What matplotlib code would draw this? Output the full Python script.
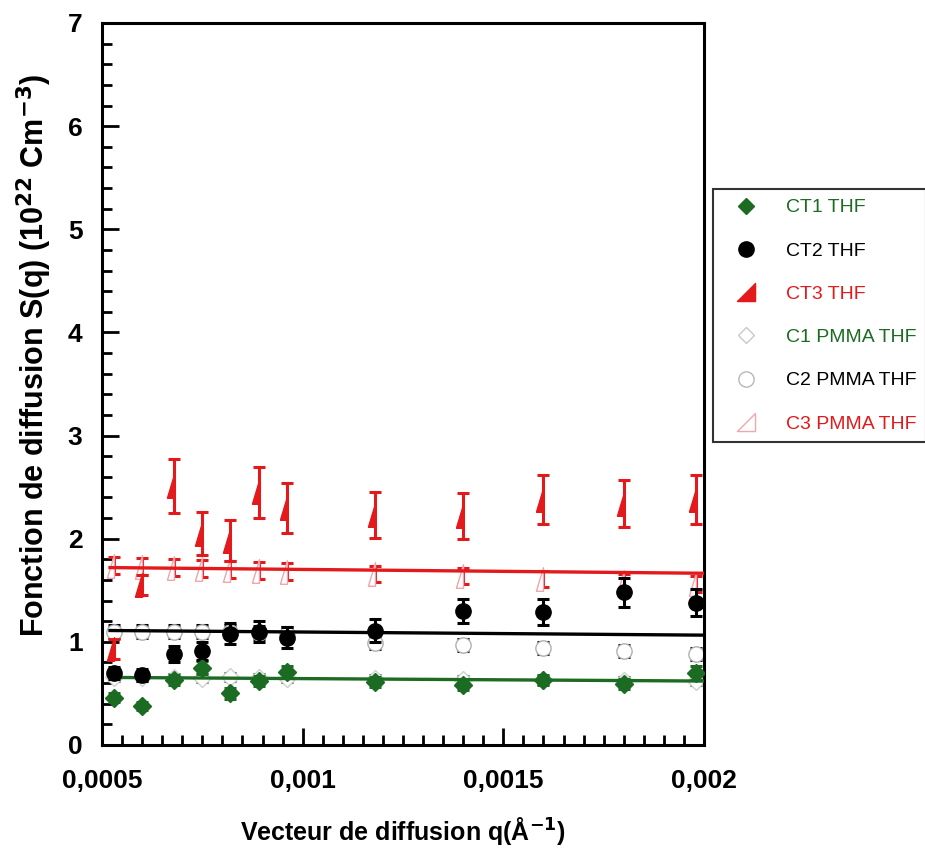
import matplotlib
matplotlib.use("Agg")
import matplotlib.pyplot as plt
from matplotlib.lines import Line2D
from matplotlib.ticker import MultipleLocator, FixedLocator, FixedFormatter

# vecteur de diffusion q (1/A)
q = [0.00053, 0.0006, 0.00068, 0.00075, 0.00082, 0.00089, 0.00096,
     0.00118, 0.0014, 0.0016, 0.0018, 0.00198]

# copolymeres CT dans THF
ct1 = [0.46, 0.38, 0.63, 0.75, 0.50, 0.62, 0.71, 0.61, 0.58, 0.63, 0.59, 0.70]
ct1_err = [0.04, 0.04, 0.05, 0.06, 0.05, 0.05, 0.06, 0.05, 0.05, 0.05, 0.05, 0.07]
ct2 = [0.70, 0.68, 0.88, 0.91, 1.08, 1.10, 1.04, 1.11, 1.30, 1.29, 1.48, 1.38]
ct2_err = [0.06, 0.06, 0.08, 0.09, 0.10, 0.10, 0.10, 0.11, 0.12, 0.13, 0.14, 0.13]
ct3 = [0.93, 1.55, 2.51, 2.05, 1.98, 2.45, 2.30, 2.23, 2.22, 2.38, 2.34, 2.38]
ct3_err = [0.10, 0.10, 0.26, 0.21, 0.20, 0.25, 0.24, 0.22, 0.22, 0.24, 0.23, 0.24]

# PMMA dans THF
c1 = [0.66, 0.66, 0.65, 0.65, 0.66, 0.65, 0.65, 0.64, 0.63, 0.63, 0.62, 0.62]
c1_err = [0.04] * 12
c2 = [1.10, 1.10, 1.10, 1.10, 1.10, 1.09, 1.08, 0.99, 0.97, 0.94, 0.91, 0.88]
c2_err = [0.06] * 12
c3 = [1.74, 1.73, 1.72, 1.71, 1.70, 1.69, 1.68, 1.66, 1.64, 1.61, 1.58, 1.56]
c3_err = [0.08] * 12

# droites d'ajustement (debut, fin)
fit_q = [0.00052, 0.002]
fit_c1 = [0.655, 0.62]
fit_c2 = [1.11, 1.065]
fit_c3 = [1.72, 1.665]

xticks = [0.0005, 0.001, 0.0015, 0.002]
xtick_labels = ["0,0005", "0,001", "0,0015", "0,002"]

vert = "#1b6b22"
noir = "black"
rouge = "#e3191c"
tri = [(-0.6, -1), (0, -1), (0, 1), (-0.6, -1)]   # triangle rectangle

plt.rcParams["font.family"] = ["Liberation Sans", "DejaVu Sans"]

fig = plt.figure(figsize=(9.25, 8.51), dpi=100)
ax = fig.add_axes([102 / 925, 1 - 745 / 851, (704 - 102) / 925, (745 - 23) / 851])

eb = dict(elinewidth=2.2, capthick=2.2, capsize=4.5, linestyle="none")

# PMMA (symboles vides)
ax.errorbar(q, c1, yerr=c1_err, marker="D", markersize=9, mfc="white", mec="#d0d0d0",
            ecolor=vert, zorder=2, **eb)
ax.errorbar(q, c2, yerr=c2_err, marker="o", markersize=11, mfc="white", mec="#b0b0b0",
            ecolor=noir, zorder=2, **eb)
ax.errorbar(q, c3, yerr=c3_err, marker=tri, markersize=17, mfc="white", mec="#f0a6ad",
            ecolor=rouge, zorder=2, **eb)

# droites
ax.plot(fit_q, fit_c1, color=vert, lw=2.4, zorder=3)
ax.plot(fit_q, fit_c2, color=noir, lw=2.4, zorder=3)
ax.plot(fit_q, fit_c3, color=rouge, lw=2.4, zorder=3)

# CT (symboles pleins)
ax.errorbar(q, ct1, yerr=ct1_err, marker="D", markersize=9, mfc=vert, mec=vert,
            ecolor=vert, zorder=4, **eb)
ax.errorbar(q, ct2, yerr=ct2_err, marker="o", markersize=11, mfc=noir, mec=noir,
            ecolor=noir, zorder=4, **eb)
ax.errorbar(q, ct3, yerr=ct3_err, marker=tri, markersize=17, mfc=rouge, mec=rouge,
            ecolor=rouge, zorder=4, **eb)

ax.set_xlim(0.0005, 0.002)
ax.set_ylim(0, 7)
ax.xaxis.set_major_locator(FixedLocator(xticks))
ax.xaxis.set_major_formatter(FixedFormatter(xtick_labels))
ax.xaxis.set_minor_locator(MultipleLocator(0.00005))
ax.yaxis.set_major_locator(MultipleLocator(1))
ax.yaxis.set_minor_locator(MultipleLocator(0.2))

for s in ax.spines.values():
    s.set_linewidth(2.2)
ax.tick_params(which="both", direction="in", top=False, right=False, width=2)
ax.tick_params(which="major", length=12)
ax.tick_params(which="minor", length=7)
ax.tick_params(axis="x", which="major", pad=17, labelsize=19)
ax.tick_params(axis="y", which="major", pad=14, labelsize=19)
for lab in ax.get_xticklabels() + ax.get_yticklabels():
    lab.set_fontweight("bold")

ax.set_xlabel("Vecteur de diffusion q(Å$^{\\mathbf{-1}}$)", fontsize=18, fontweight="bold", labelpad=16)
ax.set_ylabel("Fonction de diffusion S(q) (10$^{\\mathbf{22}}$ Cm$^{\\mathbf{-3}}$)", fontsize=22,
              fontweight="bold")
ax.yaxis.set_label_coords(-0.08, 0.54)

handles = [
    Line2D([], [], ls="none", marker="D", markersize=8, mfc=vert, mec=vert),
    Line2D([], [], ls="none", marker="o", markersize=11, mfc=noir, mec=noir),
    Line2D([], [], ls="none", marker=[(-1, -1), (1, -1), (1, 1), (-1, -1)], markersize=13, mfc=rouge, mec=rouge),
    Line2D([], [], ls="none", marker="D", markersize=8, mfc="white", mec="#c8c8c8"),
    Line2D([], [], ls="none", marker="o", markersize=11, mfc="white", mec="#b8b8b8"),
    Line2D([], [], ls="none", marker=[(-1, -1), (1, -1), (1, 1), (-1, -1)], markersize=13, mfc="white", mec="#f0a6ad"),
]
noms = ["CT1 THF", "CT2 THF", "CT3 THF", "C1 PMMA THF", "C2 PMMA THF", "C3 PMMA THF"]
leg = fig.legend(handles, noms, loc="upper left", bbox_to_anchor=(713 / 925, 1 - 189 / 851),
                 fontsize=14, frameon=True, fancybox=False, edgecolor="black", borderaxespad=0,
                 labelspacing=1.32, handlelength=2.4, handletextpad=0.85, borderpad=0.5)
leg.get_frame().set_linewidth(1.5)
for t, c in zip(leg.get_texts(), [vert, noir, rouge, vert, noir, rouge]):
    t.set_color(c)

fig.savefig("out.png", dpi=100)
